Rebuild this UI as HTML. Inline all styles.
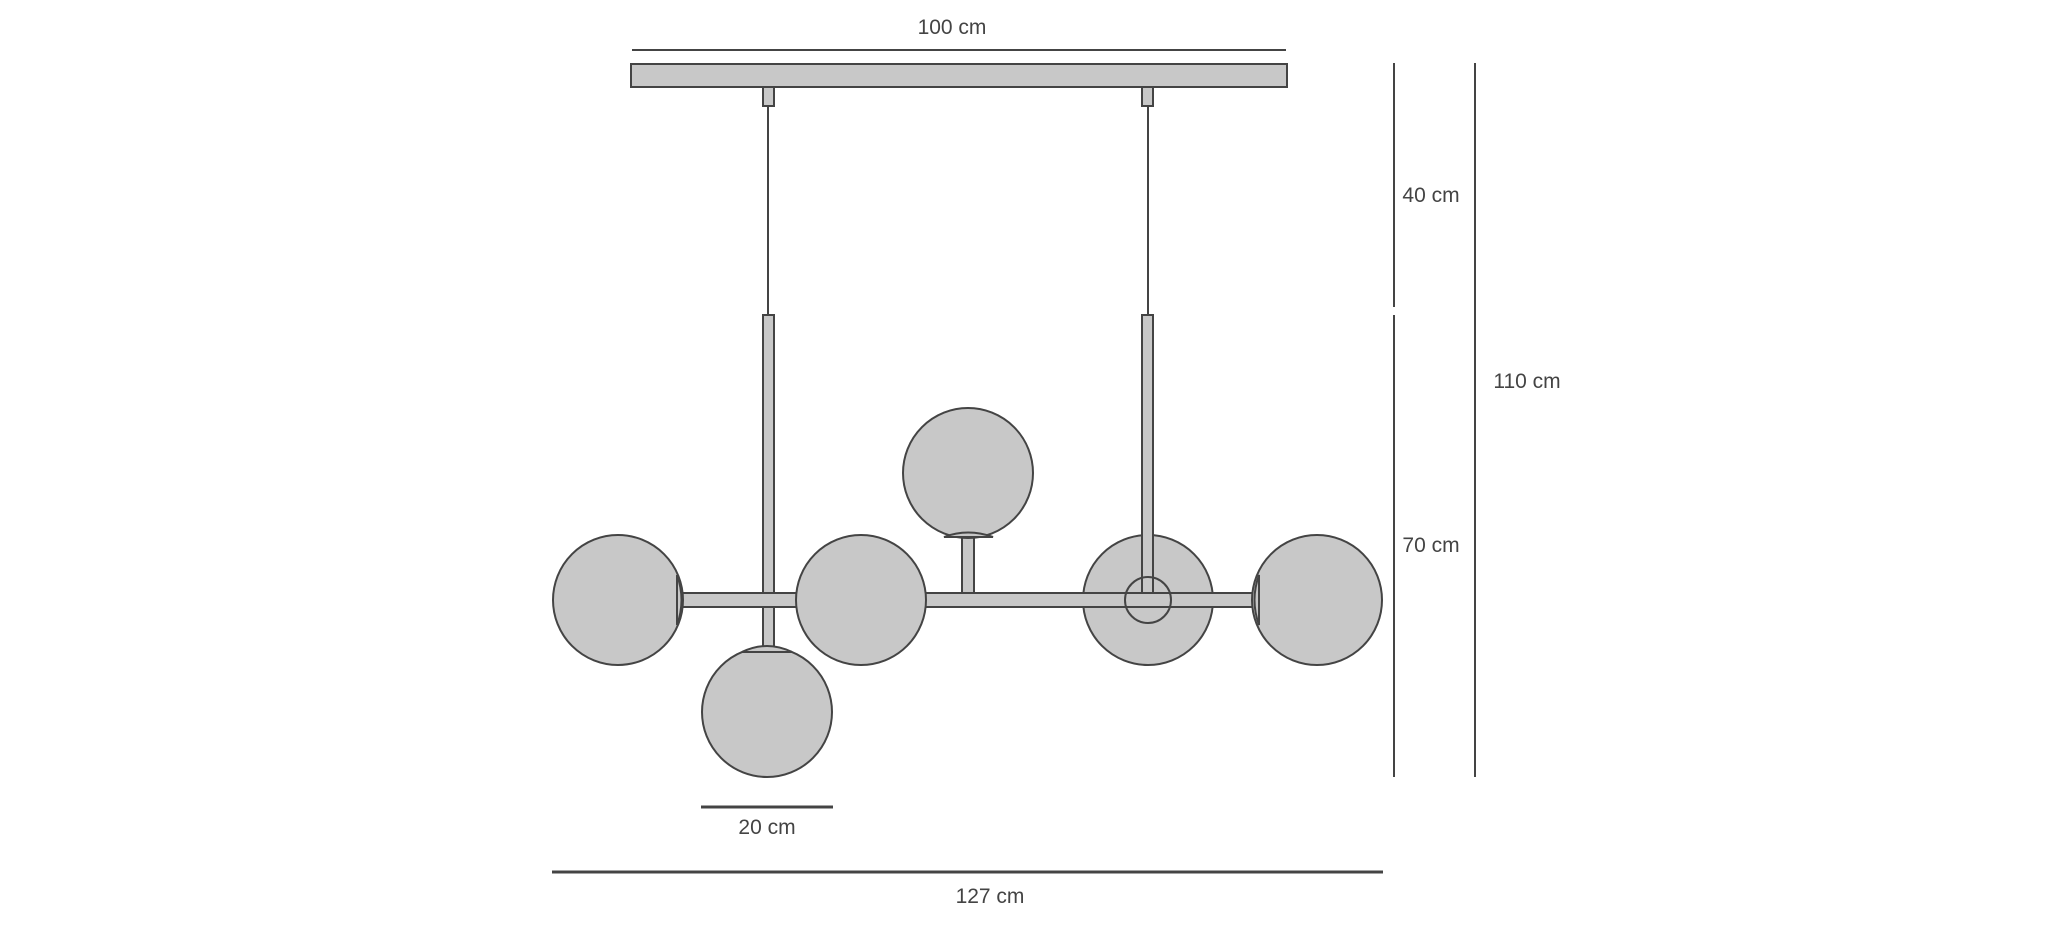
<!DOCTYPE html>
<html><head><style>html,body{margin:0;padding:0;background:#fff;width:2048px;height:937px;overflow:hidden}</style></head>
<body>
<svg width="2048" height="937" viewBox="0 0 2048 937" xmlns="http://www.w3.org/2000/svg" font-family="Liberation Sans, sans-serif" font-size="21" fill="#444">
<g stroke="#444" stroke-width="2">
<line x1="632" y1="50" x2="1286" y2="50"/>
<line x1="1394" y1="63" x2="1394" y2="307"/>
<line x1="1394" y1="315" x2="1394" y2="777"/>
<line x1="1475" y1="63" x2="1475" y2="777"/>
<line x1="701" y1="807" x2="833" y2="807" stroke-width="3"/>
<line x1="552" y1="872" x2="1383" y2="872" stroke-width="3"/>
</g>
<g stroke="#444" stroke-width="2" fill="#c8c8c8">
<rect x="631" y="64" width="656" height="23"/>
<rect x="763" y="87" width="11" height="19"/>
<rect x="1142" y="87" width="11" height="19"/>
<line x1="768" y1="106" x2="768" y2="315"/>
<line x1="1148" y1="106" x2="1148" y2="315"/>
<circle cx="1148" cy="600" r="65"/>
<rect x="763" y="315" width="11" height="300"/>
<rect x="1142" y="315" width="11" height="285"/>
<rect x="763" y="600" width="11" height="50"/>
<rect x="962" y="535" width="12" height="60"/>
<rect x="682" y="593" width="572" height="14"/>
<circle cx="618" cy="600" r="65"/>
<circle cx="861" cy="600" r="65"/>
<circle cx="968" cy="473" r="65"/>
<circle cx="1317" cy="600" r="65"/>
<circle cx="767" cy="712" r="65"/>
<path d="M944 537 Q968 528 993 537 Z"/>
<path d="M742 652 Q767 640 792 652 Z"/>
<path d="M677 575 Q686 600 677 625 Z"/>
<path d="M1259 575 Q1250 600 1259 625 Z"/>
<circle cx="1148" cy="600" r="23" fill="none"/>
</g>
<text x="952" y="34" text-anchor="middle">100 cm</text>
<text x="1431" y="202" text-anchor="middle">40 cm</text>
<text x="1431" y="552" text-anchor="middle">70 cm</text>
<text x="1527" y="388" text-anchor="middle">110 cm</text>
<text x="767" y="834" text-anchor="middle">20 cm</text>
<text x="990" y="903" text-anchor="middle">127 cm</text>
</svg>
</body></html>
